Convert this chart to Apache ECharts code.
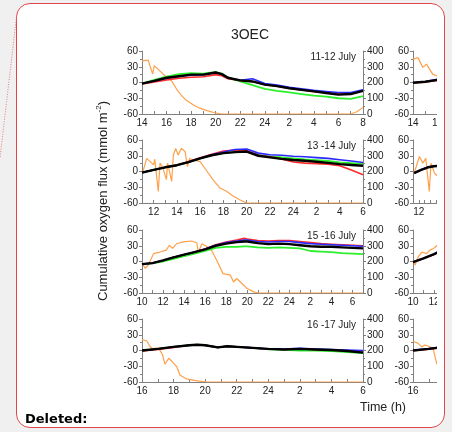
<!DOCTYPE html>
<html><head><meta charset="utf-8">
<script src="https://cdn.jsdelivr.net/npm/echarts@6/dist/echarts.min.js"></script>
<style>
html,body{margin:0;padding:0;background:#f0f0f0;width:452px;height:432px;overflow:hidden;}
#box{position:absolute;left:16px;top:3px;width:429px;height:425px;box-sizing:border-box;border:1.5px solid #e0464b;border-radius:14px;background:#fff;}
#wrap{position:absolute;left:0;top:0;width:437px;height:432px;overflow:hidden;}
#chart{position:absolute;left:0;top:0;width:700px;height:432px;}
</style></head><body>
<div id="box"></div><div id="wrap"><div id="chart"></div></div>
<script>
// ---------- Data ----------
const dayLabels = ['11-12 July', '13 -14 July', '15 -16 July', '16 -17 July'];
const leftTicks = [-60, -30, 0, 30, 60];
const rightTicks = [0, 100, 200, 300, 400];

// Panel 1 : 11-12 July (hours 14 -> 32 = 8 next day)
const p1Hours = [14,15,16,17,18,19,20,20.5,21,22,23,24,25,26,27,28,29,30,31,32];
const p1Black = [-2,3,9,12,15,15,19,16,9,4,2,-4,-7,-11,-14,-17,-20,-23,-22,-16];
const p1Green = [-2,5,11,16,18,17,20,17,9,2,-5,-12,-16,-19,-22,-25,-27,-30,-31,-26];
const p1Blue  = [-2,3,8,12,14,15,19,16,9,4,7,-2,-5,-9,-12,-15,-17,-19,-19,-14];
const p1Red   = [-3,1,5,8,10,11,15,13,7,4,2,-4,-7,-11,-14,-17,-19,-22,-21,-15];
const p1OrangeHours = [14,14.5,14.6,14.87,15,15.3,16,16.4,16.8,17.2,17.6,18.2,18.7,19.3,19.9,20.5,31,31.5,32];
const p1Orange      = [337,342,348,254,306,285,233,212,160,119,87,57,37,21,8,0,0,14,42];

// Panel 2 : 13-14 July (hours 11 -> 30)
const p2Hours = [11,12,13,14,15,16,17,18,19,20,21,22,23,24,25,26,27,28,29,30];
const p2Black = [-2,3,8,12,18,25,31,35,37,38,30,27,24,22,20.5,18.5,16.5,14,12.5,11];
const p2Green = [-2,3,8,12,18,25,31,35,37,38,31,29,27,25,23,21.5,20,17.5,16,14.5];
const p2Blue  = [-2,3,8,12,18,25,32,37,42,43,35,32,31,29,28,26.5,25,22.5,20,17];
const p2Red   = [-2,3,8,12,19,26,33,39,41,40,31,28,24,18,16,15,14,11,3,-6];
const p2OrangeHours = [11.06,11.4,11.7,12,12.1,12.4,12.55,12.8,13.1,13.2,13.4,13.55,13.7,13.9,14.1,14.4,14.7,14.9,15.1,15.4,16,16.6,17.1,17.7,18.3,18.85,19.4,20,30];
const p2Orange      = [193,283,263,242,278,73,253,221,148,253,190,137,305,347,305,347,327,232,283,273,263,200,148,95,73,43,21,0,0];

// Panel 3 : 15-16 July (hours 10 -> 31)
const p3Hours = [10,11,12,13,14,15,16,17,18,19,19.7,20,21,22,23,24,25,26,27,28,29,30,31];
const p3Black = [-5,-3,2,8,13,18,23,30,34,37,38,38,35,33,34,33,31,29,28,28,27,26,25];
const p3Green = [-5,-3,0,5,10,15,20,26,28,28,29,29,27,26,27,26,25,20,19,18,16,15,14];
const p3Blue  = [-5,-3,2,8,13,18,24,31,36,39,41,41,38,37,38,38,36,34,33,32,31,30,29];
const p3Red   = [-5,-3,2,8,13,18,24,32,37,41,44,43,40,39,40,40,38,36,34,33,32,31,30];
const p3OrangeHours = [10,10.3,10.6,11.1,11.7,12.3,12.6,12.9,13.3,13.9,14.7,15.2,15.35,15.7,16.2,16.6,17.1,17.7,18.4,18.7,19,19.5,20,20.6,21.1,31];
const p3Orange      = [191,157,177,250,260,272,303,283,313,325,330,319,260,313,293,272,208,123,113,70,92,60,28,7,0,0];

// Panel 4 : 16-17 July (hours 16 -> 30)
const p4Hours = [16,17,18,19,19.5,20,20.8,21.4,22,23,24,25,26,27,28,29,30];
const p4Black = [0,3,7,10,11,10,6,8,7,5,3,2,3,2,1,-1,-4];
const p4Green = [0,3,7,10,11,10,6,8,7,5,2,1,0,0,-1,-3,-5];
const p4Blue  = [0,3,7,10,11,10,6,8,7,5,3,3,4,3,2,1,0];
const p4Red   = [-1,2,6,10,11,10,6,8,7,5,3,2,3,2,1,-1,-3];
const p4OrangeHours = [16,16.3,16.5,16.7,16.9,17.1,17.3,17.45,17.7,18,18.2,18.4,18.8,19.5,20.1,30];
const p4Orange      = [270,260,227,207,217,207,173,113,151,120,98,44,20,7,0,0];

// Second (cut-off) column
const r1Hours = [14,15,16,17];
const r1Black = [-0.5,1.5,5,7];
const r1Blue  = [0,2,6,8];
const r1Red   = [-1,1,4,6];
const r1OrangeHours = [14,14.4,14.8,15.1,15.6,15.9,16.5,17];
const r1Orange      = [347,358,296,317,253,243,217,150];

const r2Hours = [11.6,12.2,12.8,13.3,13.8,14.5];
const r2Black = [-3,3,8,10,11,12];
const r2Blue  = [-2.5,3.5,8.5,10.5,11.5,12.5];
const r2Red   = [-3,3,8,10,11,12];
const r2OrangeHours = [11.6,12.05,12.35,12.6,12.9,13.05,13.35,13.65,14];
const r2Orange      = [190,295,253,283,73,253,190,168,233];

const r3Hours = [10,11,12,12.5,13];
const r3Black = [-1,6,14,19,22];
const r3Blue  = [-1,6,14,19,22];
const r3Red   = [-1.5,5.5,13.5,18.5,21.5];
const r3OrangeHours = [10.03,10.2,10.5,10.83,11.3,11.6,11.95,12.3,12.6];
const r3Orange      = [208,177,230,260,250,272,283,303,317];

const r4Hours = [16,17,17.5,18];
const r4Black = [0,3,5,7];
const r4Blue  = [0.5,3.5,5.5,7.5];
const r4Red   = [-0.5,2.5,4.5,6.5];
const r4OrangeHours = [16.02,16.3,16.55,16.76,17.1,17.3,17.5,17.8];
const r4Orange      = [257,247,223,235,223,203,117,83];

// ---------- Build options ----------
const zip = (xs, ys) => xs.map((x, i) => [x, ys[i]]);
const fmtHour = v => {
  const r = Math.round(v);
  if (Math.abs(v - r) > 1e-6 || r % 2 !== 0) return '';
  return String(r > 24 ? r - 24 : r);
};
const TOPS = [51, 140, 230, 319];
const H = 63;

const panels = [
  {left:142, width:221, xMin:14, xMax:32, xInt:1, hours:p1Hours, black:p1Black, green:p1Green, blue:p1Blue, red:p1Red, oh:p1OrangeHours, o:p1Orange},
  {left:142, width:221, xMin:11, xMax:30, xInt:1, hours:p2Hours, black:p2Black, green:p2Green, blue:p2Blue, red:p2Red, oh:p2OrangeHours, o:p2Orange},
  {left:142, width:221, xMin:10, xMax:31, xInt:1, hours:p3Hours, black:p3Black, green:p3Green, blue:p3Blue, red:p3Red, oh:p3OrangeHours, o:p3Orange},
  {left:142, width:221, xMin:16, xMax:30, xInt:1, hours:p4Hours, black:p4Black, green:p4Green, blue:p4Blue, red:p4Red, oh:p4OrangeHours, o:p4Orange},
  {left:413, width:221, xMin:14, xMax:32, xInt:1, hours:r1Hours, black:r1Black, blue:r1Blue, red:r1Red, oh:r1OrangeHours, o:r1Orange},
  {left:413, width:215, xMin:11.5, xMax:30, xInt:0.5, hours:r2Hours, black:r2Black, blue:r2Blue, red:r2Red, oh:r2OrangeHours, o:r2Orange},
  {left:413, width:221, xMin:10, xMax:31, xInt:1, hours:r3Hours, black:r3Black, blue:r3Blue, red:r3Red, oh:r3OrangeHours, o:r3Orange},
  {left:413, width:221, xMin:16, xMax:30, xInt:1, hours:r4Hours, black:r4Black, blue:r4Blue, red:r4Red, oh:r4OrangeHours, o:r4Orange}
];

const AX = '#808080', TXT = '#222';
const FONT = 'Liberation Sans, Arial, sans-serif';
const grid = [], xAxis = [], yAxis = [], series = [];
panels.forEach((p, i) => {
  const row = i % 4;
  grid.push({left: p.left, top: TOPS[row], width: p.width, height: H});
  xAxis.push({
    gridIndex: i, type: 'value', min: p.xMin, max: p.xMax, interval: p.xInt,
    axisLine: {show: true, onZero: false, lineStyle: {color: AX, width: 1}},
    axisTick: {show: true, inside: true, length: 3, lineStyle: {color: AX}},
    axisLabel: {formatter: fmtHour, fontSize: 10, color: TXT, margin: 4, fontFamily: FONT, showMinLabel: true, showMaxLabel: true},
    splitLine: {show: false}
  });
  yAxis.push({
    gridIndex: i, type: 'value', position: 'left', min: leftTicks[0], max: leftTicks[leftTicks.length-1], interval: 30,
    axisLine: {show: true, onZero: false, lineStyle: {color: AX, width: 1}},
    axisTick: {show: true, length: 3, lineStyle: {color: AX}},
    minorTick: {show: true, splitNumber: 2, length: 2, lineStyle: {color: AX}},
    axisLabel: {fontSize: 10, color: TXT, margin: 4, fontFamily: FONT},
    splitLine: {show: false}
  });
  yAxis.push({
    gridIndex: i, type: 'value', position: 'right', min: rightTicks[0], max: rightTicks[rightTicks.length-1], interval: 100,
    axisLine: {show: true, onZero: false, lineStyle: {color: AX, width: 1}},
    axisTick: {show: true, length: 3, lineStyle: {color: AX}},
    minorTick: {show: true, splitNumber: 2, length: 2, lineStyle: {color: AX}},
    axisLabel: {fontSize: 10, color: TXT, margin: 4, fontFamily: FONT},
    splitLine: {show: false}
  });
  const li = 2*i, ri = 2*i + 1;
  const base = {type: 'line', xAxisIndex: i, showSymbol: false, symbol: 'none', animation: false, silent: true};
  series.push(Object.assign({}, base, {yAxisIndex: ri, data: zip(p.oh, p.o), lineStyle: {color: '#ffa04a', width: 1.2}, z: 2}));
  if (p.green) series.push(Object.assign({}, base, {yAxisIndex: li, data: zip(p.hours, p.green), lineStyle: {color: '#2cf02c', width: 1.8}, z: 3}));
  series.push(Object.assign({}, base, {yAxisIndex: li, data: zip(p.hours, p.red), lineStyle: {color: '#ff2a2a', width: 1.6}, z: 3}));
  series.push(Object.assign({}, base, {yAxisIndex: li, data: zip(p.hours, p.blue), lineStyle: {color: '#2a2aff', width: 1.6}, z: 3}));
  series.push(Object.assign({}, base, {yAxisIndex: li, data: zip(p.hours, p.black), lineStyle: {color: '#000', width: 2.4}, z: 4}));
});

const graphic = [
  {type: 'line', shape: {x1: 16.5, y1: 17, x2: 0, y2: 158}, style: {stroke: '#e87a7e', lineWidth: 1, lineDash: [1, 1.5]}},
  {type: 'text', x: 250, y: 35, style: {text: '3OEC', fontSize: 14, fontFamily: FONT, fill: TXT, align: 'center', verticalAlign: 'middle'}},
  {type: 'text', x: 103, y: 201, rotation: Math.PI/2,
   style: {text: '{a|Cumulative oxygen flux (mmol m}{s|-2}{a|)}', align: 'center', verticalAlign: 'middle',
     rich: {a: {fontSize: 13, fontFamily: FONT, fill: TXT, lineHeight: 16}, s: {fontSize: 8, fontFamily: FONT, fill: TXT, verticalAlign: 'top', lineHeight: 16}}}},
  {type: 'text', x: 383, y: 408, style: {text: 'Time (h)', fontSize: 12.5, fontFamily: FONT, fill: TXT, align: 'center', verticalAlign: 'middle'}},
  {type: 'text', x: 25, y: 420, style: {text: 'Deleted:', fontSize: 13, fontWeight: 'bold', fontFamily: 'DejaVu Sans, Verdana, sans-serif', fill: '#000', align: 'left', verticalAlign: 'middle'}}
];
dayLabels.forEach((t, i) => {
  graphic.push({type: 'text', x: 356, y: TOPS[i] + 6, style: {text: t, fontSize: 10, fontFamily: FONT, fill: TXT, align: 'right', verticalAlign: 'middle'}});
});

const chart = echarts.init(document.getElementById('chart'), null, {renderer: 'canvas'});
chart.setOption({backgroundColor: 'transparent', animation: false, grid, xAxis, yAxis, series, graphic});
</script></body></html>
